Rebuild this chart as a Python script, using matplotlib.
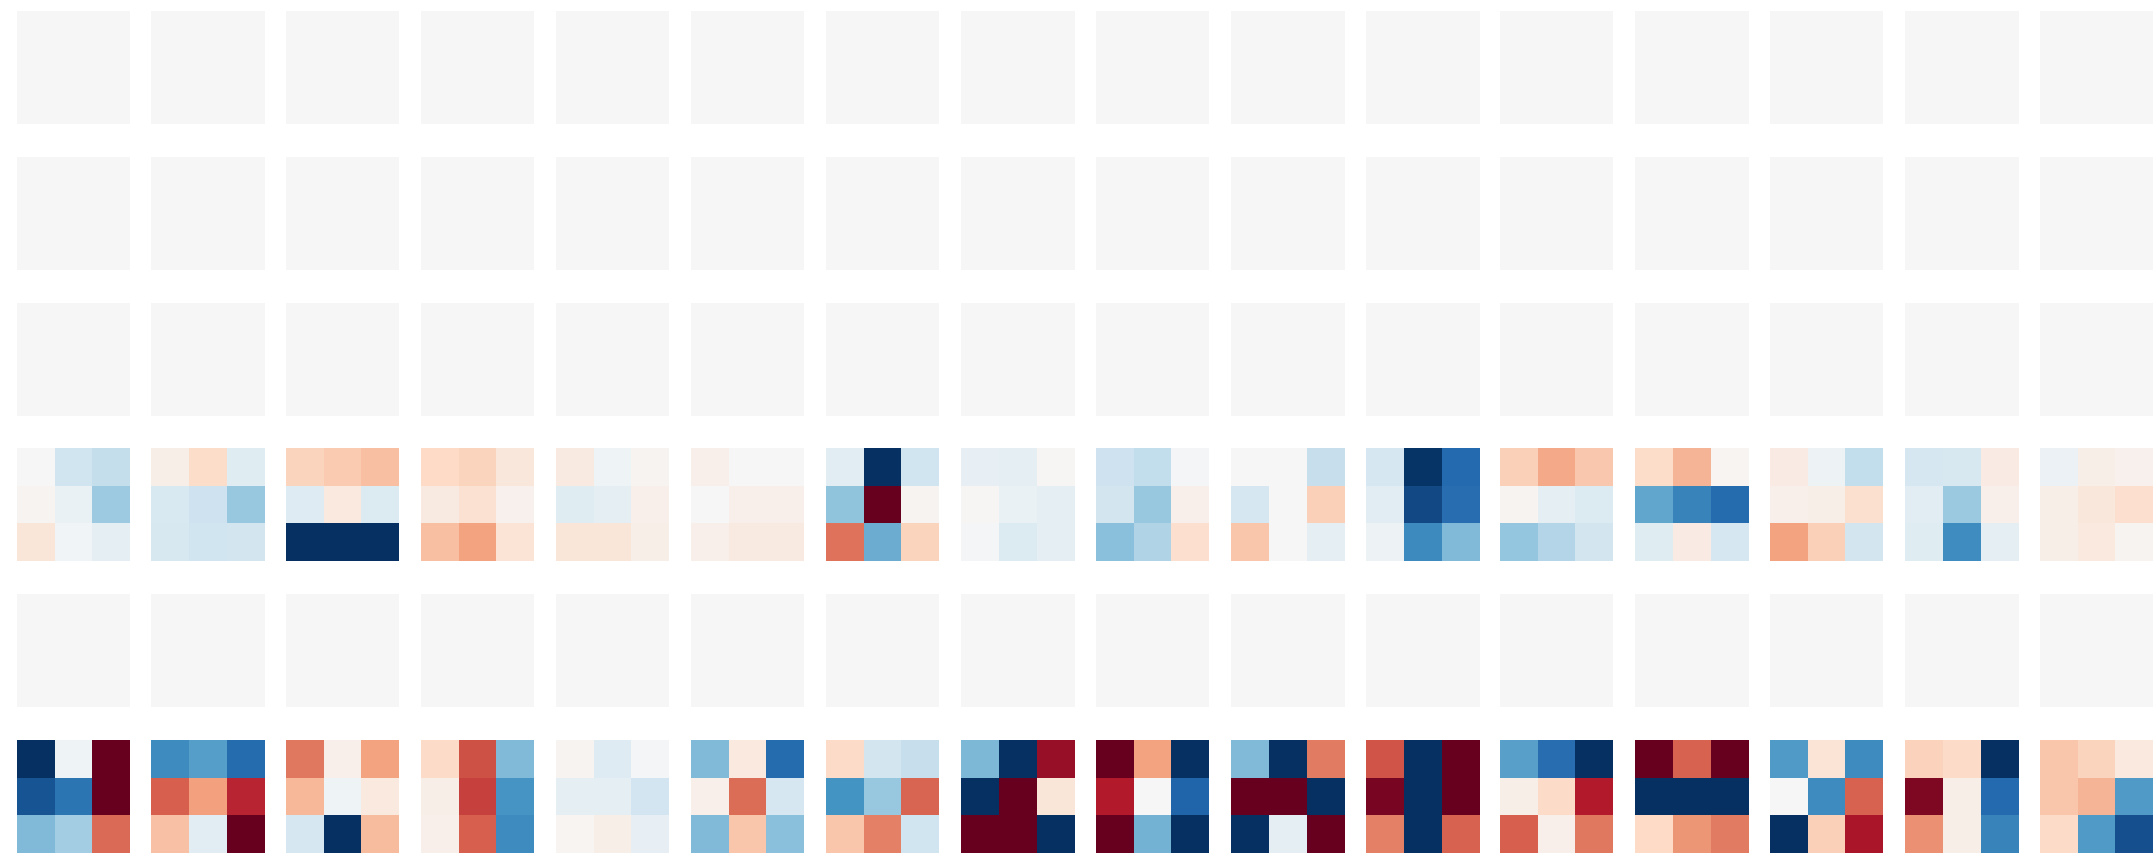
import numpy as np
import matplotlib
matplotlib.use("Agg")
import matplotlib.pyplot as plt

# Learned 3x3 kernels: 6 input channels x 16 output filters.
# Channels 0, 1, 2 and 4 carry only zero weights.
n_channels = 6
n_filters = 16

channel_3 = [
    [[0.00, -0.20, -0.24], [0.03, -0.07, -0.36], [0.12, -0.03, -0.10]],
    [[0.06, 0.18, -0.12], [-0.15, -0.21, -0.38], [-0.16, -0.20, -0.18]],
    [[0.22, 0.26, 0.30], [-0.13, 0.10, -0.14], [-1.00, -1.00, -1.00]],
    [[0.20, 0.22, 0.11], [0.09, 0.15, 0.04], [0.30, 0.40, 0.14]],
    [[0.09, -0.04, 0.03], [-0.12, -0.10, 0.05], [0.12, 0.12, 0.06]],
    [[0.05, 0.00, 0.00], [0.00, 0.05, 0.05], [0.05, 0.09, 0.09]],
    [[-0.11, -1.00, -0.20], [-0.40, 1.00, 0.03], [0.54, -0.50, 0.22]],
    [[-0.08, -0.10, 0.01], [0.01, -0.07, -0.09], [-0.01, -0.14, -0.09]],
    [[-0.21, -0.25, -0.02], [-0.18, -0.38, 0.05], [-0.42, -0.30, 0.17]],
    [[0.00, 0.00, -0.23], [-0.17, 0.00, 0.24], [0.28, 0.00, -0.09]],
    [[-0.17, -0.98, -0.78], [-0.11, -0.90, -0.76], [-0.05, -0.64, -0.44]],
    [[0.24, 0.38, 0.27], [0.03, -0.10, -0.14], [-0.39, -0.29, -0.18]],
    [[0.18, 0.34, 0.02], [-0.52, -0.67, -0.77], [-0.12, 0.08, -0.17]],
    [[0.08, -0.05, -0.25], [0.05, 0.06, 0.16], [0.40, 0.24, -0.18]],
    [[-0.17, -0.16, 0.08], [-0.11, -0.37, 0.05], [-0.12, -0.62, -0.09]],
    [[-0.06, 0.06, 0.04], [0.06, 0.11, 0.17], [0.06, 0.10, 0.03]],
]

channel_5 = [
    [[-1.00, -0.04, 1.00], [-0.86, -0.73, 1.00], [-0.44, -0.35, 0.57]],
    [[-0.63, -0.55, -0.77], [0.60, 0.41, 0.76], [0.29, -0.11, 1.00]],
    [[0.53, 0.05, 0.40], [0.33, -0.04, 0.10], [-0.17, -1.00, 0.32]],
    [[0.19, 0.64, -0.44], [0.06, 0.68, -0.59], [0.05, 0.60, -0.63]],
    [[0.03, -0.13, -0.01], [-0.10, -0.10, -0.19], [0.02, 0.06, -0.08]],
    [[-0.44, 0.10, -0.77], [0.05, 0.56, -0.17], [-0.44, 0.28, -0.42]],
    [[0.19, -0.18, -0.23], [-0.60, -0.38, 0.58], [0.28, 0.50, -0.20]],
    [[-0.45, -1.00, 0.87], [-1.00, 1.00, 0.12], [1.00, 1.00, -1.00]],
    [[1.00, 0.40, -1.00], [0.79, 0.00, -0.80], [1.00, -0.47, -1.00]],
    [[-0.44, -1.00, 0.52], [1.00, 1.00, -1.00], [-1.00, -0.09, 1.00]],
    [[0.63, -1.00, 1.00], [0.95, -1.00, 1.00], [0.50, -1.00, 0.59]],
    [[-0.54, -0.76, -1.00], [0.06, 0.19, 0.79], [0.60, 0.05, 0.53]],
    [[1.00, 0.59, 1.00], [-1.00, -1.00, -1.00], [0.20, 0.44, 0.52]],
    [[-0.57, 0.14, -0.63], [0.00, -0.63, 0.59], [-1.00, 0.24, 0.82]],
    [[0.23, 0.19, -1.00], [0.93, 0.06, -0.78], [0.46, 0.06, -0.67]],
    [[0.28, 0.22, 0.10], [0.28, 0.34, -0.57], [0.19, -0.57, -0.88]],
]

weights = np.zeros((n_channels, n_filters, 3, 3))
weights[3] = np.array(channel_3)
weights[5] = np.array(channel_5)

W, H = 2153, 856
fig = plt.figure(figsize=(W / 100, H / 100), dpi=100)
fig.patch.set_facecolor("white")

tile_w, tile_h = 113, 113
x0, dx = 16.5, 134.9
y0, dy = 11.0, 145.8

for r in range(n_channels):
    for c in range(n_filters):
        left = (x0 + dx * c) / W
        bottom = 1 - (y0 + dy * r + tile_h) / H
        ax = fig.add_axes([left, bottom, tile_w / W, tile_h / H])
        ax.imshow(weights[r, c], cmap="RdBu_r", vmin=-1, vmax=1,
                  interpolation="nearest", aspect="auto")
        ax.axis("off")

fig.savefig("out.png", dpi=100, facecolor="white")
